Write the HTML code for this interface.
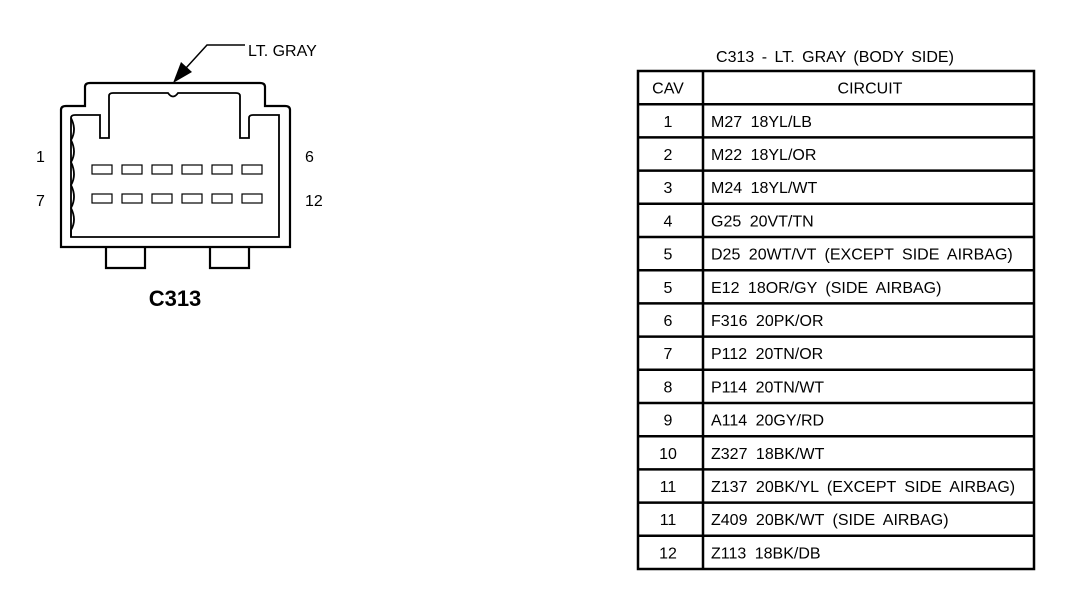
<!DOCTYPE html>
<html><head><style>body{margin:0;background:#fff}svg{display:block}text{font-family:"Liberation Sans",sans-serif;fill:#000}</style></head><body>
<svg width="1072" height="590" viewBox="0 0 1072 590" xmlns="http://www.w3.org/2000/svg">
<g fill="none" stroke="#000" stroke-width="2.2">
<path d="M61,247 V110 Q61,106 66,106 H85 V87 Q85,83 90,83 H260 Q265,83 265,87 V106 H285 Q290,106 290,110 V247 Z"/>
<path d="M71,237 V118 Q71,115 75,115 H100 V138 H109 V96 Q109,93 113,93 H168 Q173,100 178,93 H236 Q240,93 240,96 V138 H249 V118 Q249,115 253,115 H279 V237 Z" stroke-width="1.8"/>
<path d="M71,118 Q77,130 71,140 Q77,152 71,162 Q77,175 71,185 Q77,197 71,208 Q77,220 71,230 V237" stroke-width="1.8"/>
<path d="M106,247 V268 H145 V247 M210,247 V268 H249 V247"/>
<path d="M245,45 H207 L186,68" stroke-width="1.5"/>
</g>
<polygon points="173,83 181,62 192,72" fill="#000"/>
<g fill="none" stroke="#000" stroke-width="1.2">
<rect x="92" y="165" width="20" height="9"/><rect x="122" y="165" width="20" height="9"/><rect x="152" y="165" width="20" height="9"/><rect x="182" y="165" width="20" height="9"/><rect x="212" y="165" width="20" height="9"/><rect x="242" y="165" width="20" height="9"/>
<rect x="92" y="194" width="20" height="9"/><rect x="122" y="194" width="20" height="9"/><rect x="152" y="194" width="20" height="9"/><rect x="182" y="194" width="20" height="9"/><rect x="212" y="194" width="20" height="9"/><rect x="242" y="194" width="20" height="9"/>
</g>
<g font-size="16">
<text x="248" y="56">LT. GRAY</text>
<text x="36" y="162">1</text><text x="36" y="206">7</text>
<text x="305" y="162">6</text><text x="305" y="206">12</text>
</g>
<text x="175" y="306" font-size="22" font-weight="bold" text-anchor="middle">C313</text>
<text x="835" y="62" font-size="16" text-anchor="middle" word-spacing="3">C313 - LT. GRAY (BODY SIDE)</text>
<g fill="none" stroke="#000" stroke-width="2.5">
<rect x="638" y="71" width="396" height="498"/>
<line x1="703" y1="71" x2="703" y2="569"/>
</g>
<g stroke="#000" stroke-width="2.5" id="rows"></g>
<g font-size="16" word-spacing="4" id="txt"></g>
<script>
var d=[["CAV","CIRCUIT"],["1","M27 18YL/LB"],["2","M22 18YL/OR"],["3","M24 18YL/WT"],["4","G25 20VT/TN"],["5","D25 20WT/VT (EXCEPT SIDE AIRBAG)"],["5","E12 18OR/GY (SIDE AIRBAG)"],["6","F316 20PK/OR"],["7","P112 20TN/OR"],["8","P114 20TN/WT"],["9","A114 20GY/RD"],["10","Z327 18BK/WT"],["11","Z137 20BK/YL (EXCEPT SIDE AIRBAG)"],["11","Z409 20BK/WT (SIDE AIRBAG)"],["12","Z113 18BK/DB"]];
var ns="http://www.w3.org/2000/svg",h=498/15,r=document.getElementById("rows"),t=document.getElementById("txt");
d.forEach(function(e,i){var y=71+i*h;
if(i>0){var l=document.createElementNS(ns,"line");l.setAttribute("x1",638);l.setAttribute("x2",1034);l.setAttribute("y1",y);l.setAttribute("y2",y);r.appendChild(l);}
var a=document.createElementNS(ns,"text");a.setAttribute("x",668);a.setAttribute("y",y+h/2+6);a.setAttribute("text-anchor","middle");a.textContent=e[0];t.appendChild(a);
var b=document.createElementNS(ns,"text");b.setAttribute("y",y+h/2+6);if(i==0){b.setAttribute("x",870);b.setAttribute("text-anchor","middle");}else b.setAttribute("x",711);b.textContent=e[1];t.appendChild(b);});
</script>
</svg>
</body></html>
